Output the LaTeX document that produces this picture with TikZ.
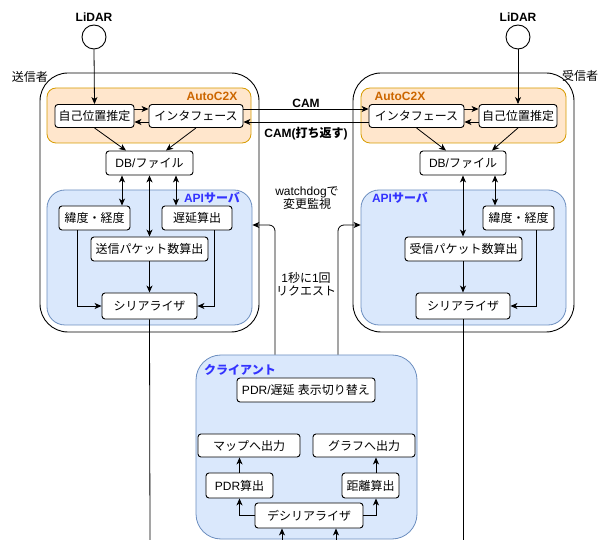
\documentclass[tikz,border=0pt]{standalone}
\usepackage{fontspec}
\setmainfont{Liberation Sans}
\newfontfamily\jp{Noto Sans CJK JP}
\usetikzlibrary{arrows.meta}
\newcommand{\jtext}[1]{{\jp #1}}
\definecolor{orfill}{HTML}{FFE6CC}
\definecolor{ordraw}{HTML}{D79B00}
\definecolor{orlabel}{HTML}{CC6600}
\definecolor{blfill}{HTML}{DAE8FC}
\definecolor{bldraw}{HTML}{6C8EBF}
\definecolor{bllabel}{HTML}{3333FF}
\begin{document}
\begin{tikzpicture}[x=1pt,y=-1pt,
  font=\fontsize{12}{14}\selectfont,
  box/.style={draw, line width=0.9pt, fill=white, rounded corners=3pt, inner sep=0pt},
  outerbox/.style={draw, line width=0.9pt, rounded corners=28pt, inner sep=0pt},
  orgroup/.style={draw=ordraw, fill=orfill, line width=0.8pt, rounded corners=9pt, inner sep=0pt},
  blgroup/.style={draw=bldraw, fill=blfill, line width=0.8pt, rounded corners=18pt, inner sep=0pt},
  arr/.style={line width=0.8pt, -{Stealth[length=7pt,width=6pt,inset=2pt]}},
  darr/.style={line width=0.8pt, {Stealth[length=7pt,width=6pt,inset=2pt]}-{Stealth[length=7pt,width=6pt,inset=2pt]}},
  plain/.style={line width=0.8pt},
  lbl/.style={inner sep=0pt, align=center, font=\fontsize{12}{13}\selectfont}
]
\useasboundingbox (0,0) rectangle (598,540);

% ---------------- sender ----------------
\node[outerbox, minimum width=219pt, minimum height=259pt] (sender) at (149.5,202.5) {};
\node[lbl] (senderlbl) at (30,77) {\jtext{送信者}};
\node[orgroup, minimum width=204pt, minimum height=55pt] (autoL) at (149,115.5) {};
\node[lbl, text=orlabel, font=\bfseries\fontsize{12}{13}\selectfont] (autoLlbl) at (212,96) {AutoC2X};
\node[blgroup, minimum width=205pt, minimum height=135pt] (apiL) at (149.5,257.5) {};
\node[lbl, text=bllabel, font=\bfseries\fontsize{12}{13}\selectfont] (apiLlbl) at (212,198) {API{\jp\bfseries サーバ}};

\node[circle, draw, line width=0.9pt, minimum size=24pt, inner sep=0pt] (lidarL) at (94,37) {};
\node[lbl, font=\bfseries\fontsize{12}{13}\selectfont] (lidarLlbl) at (94,17) {LiDAR};

\node[box, minimum width=79pt, minimum height=23pt] (selfL) at (94.5,116) {\jtext{自己位置推定}};
\node[box, minimum width=94pt, minimum height=23pt] (ifL) at (196,116) {\jtext{インタフェース}};
\node[box, minimum width=87pt, minimum height=24pt] (dbL) at (149.5,163) {DB/\jtext{ファイル}};
\node[box, minimum width=71pt, minimum height=24pt] (latL) at (94.5,218) {\jtext{緯度・経度}};
\node[box, minimum width=70pt, minimum height=24pt] (delayL) at (197,218) {\jtext{遅延算出}};
\node[box, minimum width=117pt, minimum height=24pt] (sendcnt) at (149.5,249) {\jtext{送信パケット数算出}};
\node[box, minimum width=95pt, minimum height=26pt] (serL) at (149.5,306) {\jtext{シリアライザ}};

% ---------------- receiver ----------------
\node[outerbox, minimum width=221pt, minimum height=259pt] (receiver) at (463.5,202.5) {};
\node[lbl] (receiverlbl) at (580,76) {\jtext{受信者}};
\node[orgroup, minimum width=205pt, minimum height=55pt] (autoR) at (463.5,115.5) {};
\node[lbl, text=orlabel, font=\bfseries\fontsize{12}{13}\selectfont] (autoRlbl) at (400,96) {AutoC2X};
\node[blgroup, minimum width=205pt, minimum height=135pt] (apiR) at (463.5,257.5) {};
\node[lbl, text=bllabel, font=\bfseries\fontsize{12}{13}\selectfont] (apiRlbl) at (400,198) {API{\jp\bfseries サーバ}};

\node[circle, draw, line width=0.9pt, minimum size=24pt, inner sep=0pt] (lidarR) at (518,37) {};
\node[lbl, font=\bfseries\fontsize{12}{13}\selectfont] (lidarRlbl) at (518,17) {LiDAR};

\node[box, minimum width=95pt, minimum height=23pt] (ifR) at (416.5,116) {\jtext{インタフェース}};
\node[box, minimum width=78pt, minimum height=23pt] (selfR) at (518,116) {\jtext{自己位置推定}};
\node[box, minimum width=86pt, minimum height=24pt] (dbR) at (463,163) {DB/\jtext{ファイル}};
\node[box, minimum width=71pt, minimum height=24pt] (latR) at (518.5,218) {\jtext{緯度・経度}};
\node[box, minimum width=117pt, minimum height=24pt] (recvcnt) at (463.5,249) {\jtext{受信パケット数算出}};
\node[box, minimum width=94pt, minimum height=26pt] (serR) at (463,306) {\jtext{シリアライザ}};

% ---------------- middle labels ----------------
\node[lbl, font=\bfseries\fontsize{12}{13}\selectfont] (camlbl) at (306,103) {CAM};
\node[lbl, font=\bfseries\fontsize{12}{13}\selectfont] (camretlbl) at (306,134) {CAM({\jp\bfseries 打ち返す})};
\node[lbl] (watchlbl) at (307,198) {watchdog\jtext{で}\\\jtext{変更監視}};
\node[lbl] (reqlbl) at (306,284) {1\jtext{秒に}1\jtext{回}\\\jtext{リクエスト}};

% ---------------- client ----------------
\node[blgroup, rounded corners=25pt, minimum width=221pt, minimum height=184pt] (client) at (306.5,447) {};
\node[lbl, text=bllabel, font=\jp\bfseries\fontsize{12}{13}\selectfont] (clientlbl) at (240,370) {クライアント};
\node[box, minimum width=138pt, minimum height=24pt] (toggle) at (306,390) {PDR/\jtext{遅延}\ \jtext{表示切り替え}};
\node[box, minimum width=102pt, minimum height=23pt] (mapout) at (249,445.5) {\jtext{マップへ出力}};
\node[box, minimum width=102pt, minimum height=23pt] (graphout) at (364,445.5) {\jtext{グラフへ出力}};
\node[box, minimum width=67pt, minimum height=25pt] (pdr) at (239.5,485.5) {PDR\jtext{算出}};
\node[box, minimum width=57pt, minimum height=25pt] (dist) at (370.5,485.5) {\jtext{距離算出}};
\node[box, minimum width=108pt, minimum height=25pt] (deser) at (309,515.5) {\jtext{デシリアライザ}};

% ---------------- helper coordinates ----------------
\coordinate (botSL) at (150,540);
\coordinate (botSR) at (463,540);
\coordinate (botDL) at (282,540);
\coordinate (botDR) at (336,540);
\coordinate (reqL) at ([xshift=-31.5pt]client.north);
\coordinate (reqR) at ([xshift=31.5pt]client.north);
\coordinate (reqY) at (306,225);

% ---------------- sender connectors ----------------
\draw[arr] (lidarL.south) -- (selfL.north);
\draw[arr] ([yshift=7pt]selfL.east) -- ([yshift=7pt]ifL.west);
\draw[arr] ([yshift=-6pt]ifL.west) -- ([yshift=-6pt]selfL.east);
\draw[arr] (selfL.south) -- ([xshift=-23.5pt]dbL.north);
\draw[arr] (ifL.south) -- ([xshift=16.5pt]dbL.north);
\draw[darr] ([xshift=-27.5pt]dbL.south) -- ([xshift=-27.5pt]dbL.south |- latL.north);
\draw[darr] (dbL.south) -- (sendcnt.north);
\draw[darr] ([xshift=26.5pt]dbL.south) -- ([xshift=26.5pt]dbL.south |- delayL.north);
\draw[arr] (sendcnt.south) -- (serL.north);
\draw[arr] ([xshift=-17.5pt]latL.south) |- (serL.west);
\draw[arr] ([xshift=17pt]delayL.south) |- (serL.east);
\draw[plain] (serL.south) -- (botSL);

% ---------------- CAM ----------------
\draw[arr] ([yshift=7pt]ifL.east) -- ([yshift=7pt]ifR.west);
\draw[arr] ([yshift=-6pt]ifR.west) -- ([yshift=-6pt]ifL.east);

% ---------------- receiver connectors ----------------
\draw[arr] (lidarR.south) -- (selfR.north);
\draw[arr] ([yshift=7pt]ifR.east) -- ([yshift=7pt]selfR.west);
\draw[arr] ([yshift=-6pt]selfR.west) -- ([yshift=-6pt]ifR.east);
\draw[arr] (ifR.south) -- ([xshift=-17pt]dbR.north);
\draw[arr] (selfR.south) -- ([xshift=29pt]dbR.north);
\draw[darr] (dbR.south) -- (dbR.south |- recvcnt.north);
\draw[darr] ([xshift=32pt]dbR.south) -- ([xshift=32pt]dbR.south |- latR.north);
\draw[arr] (recvcnt.south -| serR.north) -- (serR.north);
\draw[arr] ([xshift=17.5pt]latR.south) |- (serR.east);
\draw[plain] (serR.south) -- (botSR);

% ---------------- requests ----------------
\draw[arr, rounded corners=6pt] (reqL) |- (apiL.east |- reqY);
\draw[arr, rounded corners=6pt] (reqR) |- (apiR.west |- reqY);

% ---------------- client connectors ----------------
\draw[arr] (pdr.north) -- (pdr.north |- mapout.south);
\draw[arr] ([xshift=5.5pt]dist.north) -- ([xshift=5.5pt]dist.north |- graphout.south);
\draw[arr] (deser.west) -| (pdr.south);
\draw[arr] (deser.east) -| ([xshift=5.5pt]dist.south);
\draw[arr] (botDL) -- ([xshift=-27pt]deser.south);
\draw[arr] (botDR) -- ([xshift=27pt]deser.south);
\end{tikzpicture}
\end{document}
